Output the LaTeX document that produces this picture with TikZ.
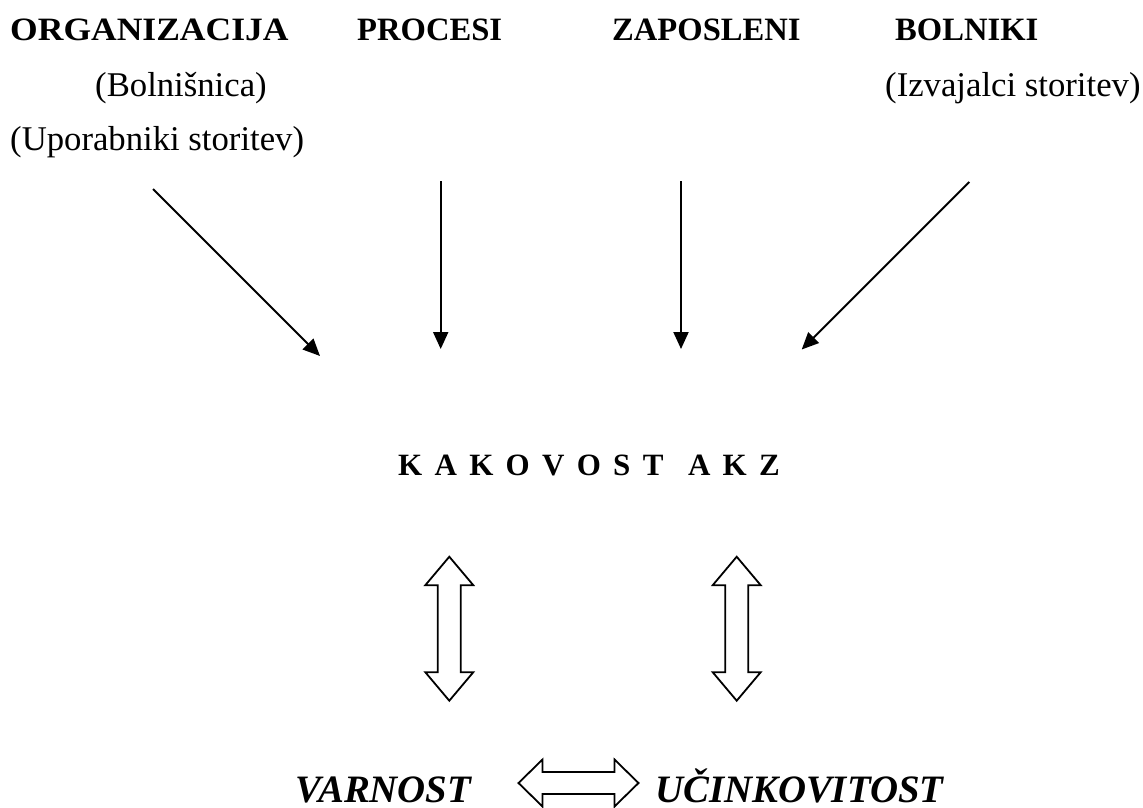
\documentclass[tikz,border=0pt]{standalone}
\usepackage{fontspec}
\usepackage{graphicx}
\setmainfont{Liberation Serif}
\usetikzlibrary{arrows.meta}
\tikzset{
 head/.style={font=\fontsize{32.6}{36}\selectfont\bfseries, anchor=base west, inner sep=0pt},
 sub/.style={font=\fontsize{34.7}{38}\selectfont, anchor=base west, inner sep=0pt},
 big/.style={font=\fontsize{31}{36}\selectfont\bfseries, anchor=base west, inner sep=0pt},
 res/.style={font=\fontsize{38.8}{42}\selectfont\bfseries\itshape, anchor=base west, inner sep=0pt},
 thinarrow/.style={line width=2pt, -{Triangle[length=17pt,width=15pt]}},
 blk/.style={line width=1.8pt, fill=white, line join=miter},
}
\newcommand{\lsp}{\hspace{12.3pt}}
\begin{document}
\begin{tikzpicture}[x=1pt,y=-1pt]
\useasboundingbox[fill=white] (0,0) rectangle (1143,807);
% headers
\node[head] (org) at (10,40.7) {\scalebox{1.09}[1]{ORGANIZACIJA}};
\node[head] (pro) at (357,40.7) {PROCESI};
\node[head] (zap) at (612,40.7) {ZAPOSLENI};
\node[head] (bol) at (895,40.7) {BOLNIKI};
% subtitles
\node[sub] (s1) at (95,96) {(Bolnišnica)};
\node[sub] (s2) at (885,96) {(Izvajalci storitev)};
\node[sub] (s3) at (10,150) {(Uporabniki storitev)};
% center
\node[big] (kak) at (398,475) {K\lsp A\lsp K\lsp O\lsp V\lsp O\lsp S\lsp T\lsp\lsp A\lsp K\lsp Z};
% results
\node[res] (var) at (295,802.5) {VARNOST};
\node[res] (uci) at (655,802.5) {UČINKOVITOST};
% thin arrows
\coordinate (a1s) at (153,189);  \coordinate (a1e) at (320,356);
\coordinate (a2s) at (440.7,181); \coordinate (a2e) at (440.7,349);
\coordinate (a3s) at (681,181);   \coordinate (a3e) at (681,349);
\coordinate (a4s) at (969.3,182); \coordinate (a4e) at (801.7,349.5);
\draw[thinarrow] (a1s) -- (a1e);
\draw[thinarrow] (a2s) -- (a2e);
\draw[thinarrow] (a3s) -- (a3e);
\draw[thinarrow] (a4s) -- (a4e);
% block double arrows (vertical)
\draw[blk,shift={(449.3,628.7)}] (0,-72) -- (24,-43.5) -- (11.5,-43.5) -- (11.5,43.5) -- (24,43.5) -- (0,72) -- (-24,43.5) -- (-11.5,43.5) -- (-11.5,-43.5) -- (-24,-43.5) -- cycle;
\draw[blk,shift={(736.7,628.7)}] (0,-72) -- (24,-43.5) -- (11.5,-43.5) -- (11.5,43.5) -- (24,43.5) -- (0,72) -- (-24,43.5) -- (-11.5,43.5) -- (-11.5,-43.5) -- (-24,-43.5) -- cycle;
% horizontal
\draw[blk,shift={(578.5,783)}] (-60,0) -- (-36,-23.5) -- (-36,-11) -- (36,-11) -- (36,-23.5) -- (60,0) -- (36,23.5) -- (36,11) -- (-36,11) -- (-36,23.5) -- cycle;
\end{tikzpicture}
\end{document}
